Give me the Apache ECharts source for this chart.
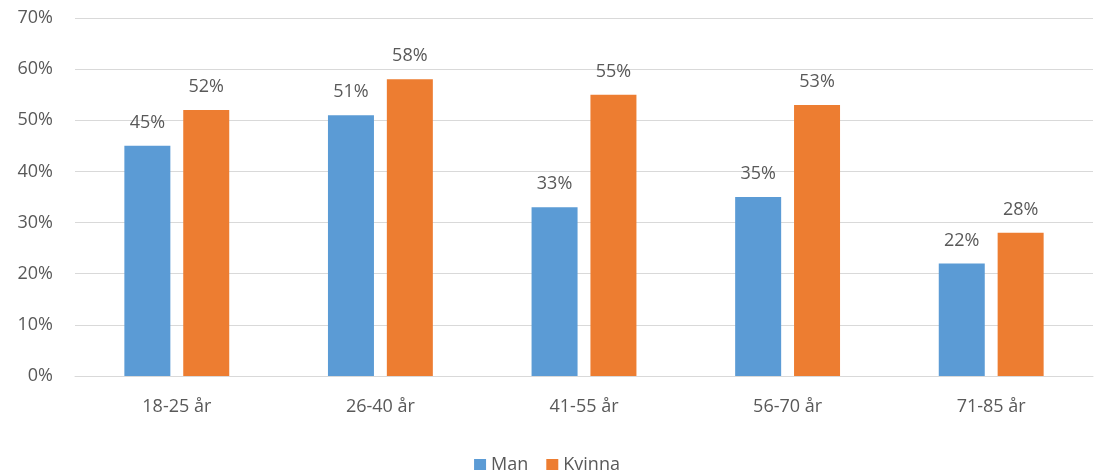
<!DOCTYPE html>
<html>
<head>
<meta charset="utf-8">
<script src="https://cdn.jsdelivr.net/npm/echarts@6/dist/echarts.min.js"></script>
<style>
  html, body { margin: 0; padding: 0; background: #fff; }
  #main { width: 1094px; height: 470px; }
</style>
</head>
<body>
<div id="main"></div>
<script>
// kategorier och värden (procent)
var categories = ['18-25 år', '26-40 år', '41-55 år', '56-70 år', '71-85 år'];
var man = [45, 51, 33, 35, 22];
var kvinna = [52, 58, 55, 53, 28];
var yTicks = [0, 10, 20, 30, 40, 50, 60, 70];

var chart = echarts.init(document.getElementById('main'));
var font = 'Open Sans';
var txt = '#595959';

var option = {
  animation: false,
  textStyle: { fontFamily: font },
  grid: { left: 75, right: 1, top: 18, bottom: 94, containLabel: false },
  legend: {
    data: ['Man', 'Kvinna'],
    top: 451,
    left: 'center',
    itemWidth: 12,
    itemHeight: 12,
    itemGap: 18,
    icon: 'rect',
    textStyle: { color: txt, fontSize: 18, fontFamily: font }
  },
  xAxis: {
    type: 'category',
    data: categories,
    axisTick: { show: false },
    axisLine: { lineStyle: { color: '#d9d9d9', width: 1 } },
    axisLabel: { color: txt, fontSize: 18, margin: 22, fontFamily: font }
  },
  yAxis: {
    type: 'value',
    min: yTicks[0],
    max: yTicks[yTicks.length - 1],
    interval: 10,
    axisLabel: { formatter: '{value}%', color: txt, fontSize: 18, margin: 22, fontFamily: font },
    splitLine: { lineStyle: { color: '#d9d9d9', width: 1 } },
    axisLine: { show: false },
    axisTick: { show: false }
  },
  series: [
    {
      name: 'Man',
      type: 'bar',
      data: man,
      barWidth: 46,
      barGap: '28%',
      itemStyle: { color: '#5b9bd5' },
      label: { show: true, position: 'top', distance: 14, formatter: '{c}%', color: txt, fontSize: 18, fontFamily: font }
    },
    {
      name: 'Kvinna',
      type: 'bar',
      data: kvinna,
      barWidth: 46,
      itemStyle: { color: '#ed7d31' },
      label: { show: true, position: 'top', distance: 14, formatter: '{c}%', color: txt, fontSize: 18, fontFamily: font }
    }
  ]
};

chart.setOption(option);
</script>
</body>
</html>
